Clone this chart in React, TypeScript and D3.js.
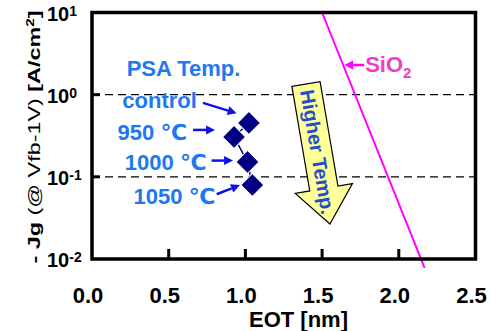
import React from 'react';
import * as d3 from 'd3';

// Gate leakage vs EOT for different PSA temperatures
const psaLabels = ['control', '950 ℃', '1000 ℃', '1050 ℃'];
const psaEot = [1.023, 0.926, 1.014, 1.045];
const psaJg = [0.453, 0.306, 0.152, 0.0796];

// SiO2 reference line (two end points)
const sio2Eot = [1.5, 2.168];
const sio2Jg = [10, 0.0078];

const xTicks = [0, 0.5, 1, 1.5, 2, 2.5];
const yTicks = [10, 1, 0.1, 0.01];
const yExps = ['1', '0', '-1', '-2'];
const dashedAt = [1, 0.1];

const FONT = '"Liberation Sans", Arial, "DejaVu Sans", sans-serif';
const LABEL_BLUE = '#1e78f0';
const ARROW_BLUE = '#1010e6';

function Arrow({ x1, y1, x2, y2, color, w = 2.5, head = 9, half = 4.5 }: any) {
  const a = Math.atan2(y2 - y1, x2 - x1);
  const bx = x2 - head * Math.cos(a);
  const by = y2 - head * Math.sin(a);
  const nx = -Math.sin(a) * half;
  const ny = Math.cos(a) * half;
  return (
    <g>
      <line x1={x1} y1={y1} x2={bx} y2={by} stroke={color} strokeWidth={w} />
      <polygon points={`${x2},${y2} ${bx + nx},${by + ny} ${bx - nx},${by - ny}`} fill={color} />
    </g>
  );
}

export default function App() {
  const W = 492, H = 331;
  const left = 92, right = 475.5, top = 12.5, bottom = 259;

  const x = d3.scaleLinear().domain([0, 2.5]).range([left, right]);
  const y = d3.scaleLog().domain([0.01, 10]).range([bottom, top]);

  const pts = psaEot.map((e, i) => [x(e), y(psaJg[i])]);
  const line = d3.line()(pts as [number, number][]);
  const diamond = d3.symbol().type(d3.symbolSquare).size(265)();

  // label and arrow offsets relative to each point
  const labelOff = [[-52, -14.7], [-47, 3], [-41, 8], [-37, 19]];
  const arrowOff = [
    [-46, -20, -12.3, -9.7],
    [-41, -7, -19, -7],
    [-36, -1.3, -14.5, -1.3],
    [-35.6, 9.3, -12.3, 0],
  ];

  const sioPts = sio2Eot.map((e, i) => [x(e), y(sio2Jg[i])]);
  // point on the SiO2 line where the label arrow touches it
  const sioY = 65;
  const sioX = sioPts[0][0] + (sioPts[1][0] - sioPts[0][0]) * (sioY - sioPts[0][1]) / (sioPts[1][1] - sioPts[0][1]);

  // Higher Temp arrow (local coords, pointing down)
  const shaftHalf = 14.3, shaftLen = 106, headHalf = 29, headLen = 36;
  const bigArrow = [
    [-shaftHalf, 0], [shaftHalf, 0], [shaftHalf, shaftLen], [headHalf, shaftLen],
    [0, shaftLen + headLen], [-headHalf, shaftLen], [-shaftHalf, shaftLen],
  ].map(p => p.join(',')).join(' ');

  return (
    <svg width={W} height={H} style={{ position: 'absolute', left: 0, top: 0 }} fontFamily={FONT}>
      <rect width={W} height={H} fill="#fff" />

      {dashedAt.map(v => (
        <line key={v} x1={left} x2={right} y1={y(v)} y2={y(v)} stroke="#000" strokeWidth={1.2} strokeDasharray="8,5" />
      ))}

      <line x1={sioPts[0][0]} y1={sioPts[0][1]} x2={sioPts[1][0]} y2={sioPts[1][1]} stroke="#ff00ff" strokeWidth={2} />
      <Arrow x1={sioX + 21} y1={sioY} x2={sioX + 1} y2={sioY} color="#ff00ff" w={2.5} head={9} half={4.5} />
      <text x={sioX + 22} y={72} fontSize={22} fontWeight="bold" fill="#f03cc8">
        SiO<tspan fontSize={15} dy={6}>2</tspan>
      </text>

      <g transform="translate(306,84) rotate(-9.7)">
        <polygon points={bigArrow} fill="#ffff99" stroke="#000" strokeWidth={1.2} />
        <text transform="rotate(90)" x={6} y={7} fontSize={20} fontWeight="bold" fill="#1f4fd0">Higher Temp.</text>
      </g>

      <path d={line ?? ''} fill="none" stroke="#000080" strokeWidth={1.5} />
      {pts.map((p, i) => (
        <path key={i} d={diamond ?? ''} transform={`translate(${p[0]},${p[1]}) rotate(45)`} fill="#000080" stroke="#fff" strokeWidth={1} />
      ))}

      {pts.map((p, i) => (
        <g key={i}>
          <text x={p[0] + labelOff[i][0]} y={p[1] + labelOff[i][1]} textAnchor="end" fontSize={22} fontWeight="bold" fill={LABEL_BLUE}>
            {psaLabels[i]}
          </text>
          <Arrow x1={p[0] + arrowOff[i][0]} y1={p[1] + arrowOff[i][1]} x2={p[0] + arrowOff[i][2]} y2={p[1] + arrowOff[i][3]} color={ARROW_BLUE} />
        </g>
      ))}
      <text x={126.7} y={76} fontSize={22} fontWeight="bold" fill={LABEL_BLUE}>PSA Temp.</text>

      {/* frame */}
      <rect x={left} y={top} width={right - left} height={bottom - top} fill="none" stroke="#000" strokeWidth={3.5} />

      {xTicks.slice(1, -1).map(t => (
        <line key={t} x1={x(t)} x2={x(t)} y1={bottom} y2={bottom - 10} stroke="#000" strokeWidth={3} />
      ))}
      {yTicks.slice(1, -1).map(t => (
        <line key={t} x1={left} x2={left + 8} y1={y(t)} y2={y(t)} stroke="#000" strokeWidth={3} />
      ))}

      {xTicks.map(t => (
        <text key={t} x={x(t) - 4} y={303} textAnchor="middle" fontSize={22} fontWeight="bold">{t.toFixed(1)}</text>
      ))}
      {yTicks.map((t, i) => (
        <text key={t} x={47} y={y(t) + 8} fontSize={20} fontWeight="bold">
          10<tspan fontSize={14} dy={-5}>{yExps[i]}</tspan>
        </text>
      ))}

      <text x={298.5} y={327} textAnchor="middle" fontSize={22} fontWeight="bold">EOT [nm]</text>

      <text transform="translate(40,137) rotate(-90)" textAnchor="middle" fontSize={17} textLength={253} lengthAdjust="spacingAndGlyphs">
        <tspan fontWeight="bold">- Jg </tspan>
        <tspan>(@ Vfb-1V) </tspan>
        <tspan fontWeight="bold">[A/cm</tspan>
        <tspan fontWeight="bold" fontSize={11} dy={-6}>2</tspan>
        <tspan fontWeight="bold" dy={6}>]</tspan>
      </text>
    </svg>
  );
}
